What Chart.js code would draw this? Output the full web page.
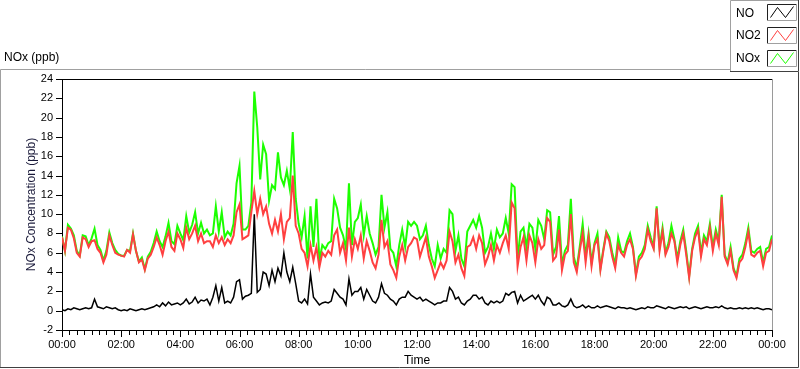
<!DOCTYPE html>
<html><head><meta charset="utf-8">
<script src="https://cdn.jsdelivr.net/npm/chart.js@4.4.1/dist/chart.umd.min.js"></script>
<style>html,body{margin:0;padding:0;background:#fff;overflow:hidden}canvas{display:block}</style>
</head><body>
<canvas id="c" width="800" height="369"></canvas>
<script>
// ---- data (6-minute samples, 00:00 .. 24:00) ----
const seriesNames = ['NO', 'NO2', 'NOx'];
const sampleMinutes = 6;
const noValues = [
0.1,0.0,0.2,0.1,0.3,0.2,0.1,0.2,0.3,0.2,
0.3,1.2,0.4,0.3,0.2,0.4,0.3,0.2,0.3,0.1,
0.0,0.1,0.0,0.2,0.1,0.0,0.1,0.2,0.1,0.2,
0.3,0.4,0.6,0.4,0.8,0.5,0.9,0.6,0.7,0.8,
0.6,0.8,1.2,0.7,0.9,1.4,0.8,1.1,1.0,1.2,
0.6,1.4,2.6,1.0,2.4,0.8,1.0,0.8,1.4,3.0,
3.2,1.2,1.5,1.6,1.8,10.0,1.9,2.2,4.0,3.8,
2.6,4.2,3.0,4.4,3.6,6.0,4.0,3.0,4.5,2.8,
1.0,0.8,1.2,0.7,3.8,1.4,1.0,0.6,0.8,0.9,
0.8,1.0,2.2,1.8,1.4,1.2,0.6,3.3,1.6,2.0,
2.0,2.4,1.2,2.2,1.6,1.0,0.8,1.4,2.8,1.8,
1.6,1.2,1.0,0.6,1.2,1.4,1.4,2.0,1.6,1.4,
1.2,1.4,1.0,1.2,1.0,0.8,0.6,0.8,0.8,1.0,
1.0,2.4,2.0,1.2,1.4,0.8,0.6,1.0,1.2,1.6,
1.6,1.2,1.4,0.8,0.6,1.0,0.8,1.0,0.8,1.0,
1.8,1.6,1.9,2.0,0.8,1.6,1.0,1.2,1.4,1.6,
1.2,1.6,1.0,0.6,1.4,1.2,0.6,0.6,0.8,0.5,
0.4,0.6,1.2,0.5,0.3,0.4,0.6,0.3,0.5,0.3,
0.3,0.5,0.3,0.4,0.5,0.4,0.3,0.2,0.4,0.3,
0.3,0.2,0.3,0.2,0.1,0.2,0.3,0.2,0.4,0.3,
0.3,0.5,0.4,0.3,0.2,0.4,0.3,0.2,0.3,0.4,
0.3,0.4,0.2,0.3,0.4,0.3,0.2,0.3,0.4,0.3,
0.3,0.4,0.3,0.5,0.3,0.2,0.3,0.2,0.2,0.3,
0.2,0.3,0.2,0.3,0.2,0.3,0.2,0.1,0.2,0.2,0.1
];
const no2Values = [
7.6,6.2,8.6,8.4,7.5,6.0,5.6,7.6,7.4,6.6,
7.2,7.3,6.4,6.0,5.0,5.8,7.8,6.8,6.0,5.8,
5.7,5.6,6.3,6.0,7.9,6.2,5.0,5.3,4.2,5.4,
5.8,6.6,7.6,6.8,5.8,7.2,8.2,6.6,6.2,8.0,
7.4,6.5,8.6,7.4,8.0,8.8,7.2,8.0,7.0,7.2,
7.2,6.6,7.8,7.0,7.6,6.8,7.4,7.0,7.8,10.2,
11.0,7.4,7.6,7.8,10.2,12.4,10.0,11.6,10.0,10.8,
9.0,8.0,9.4,8.2,10.0,7.4,9.2,9.6,14.0,8.8,
8.0,6.4,6.0,4.6,6.8,5.2,6.6,4.5,6.0,5.6,
6.2,5.8,7.8,8.4,6.0,7.0,5.2,8.6,5.6,7.4,
6.4,7.8,5.4,7.2,6.2,5.0,4.4,5.8,9.4,6.6,
7.2,4.8,4.2,3.4,5.6,6.8,5.2,6.6,7.0,7.6,
7.4,5.6,6.6,7.6,5.6,4.6,3.4,4.2,5.0,4.4,
5.2,8.2,7.2,5.0,5.8,4.4,3.6,6.6,6.8,7.6,
6.4,7.8,7.0,4.8,5.6,6.8,5.2,6.8,6.0,7.0,
7.8,6.4,11.2,10.6,4.6,6.6,7.6,5.2,7.8,7.0,
5.0,7.4,6.4,6.8,9.6,9.2,5.2,5.6,8.4,4.2,
5.8,6.2,10.0,5.0,4.0,6.2,8.0,5.0,7.6,4.6,
6.8,7.4,4.2,6.2,8.0,7.2,5.6,4.4,6.8,6.0,
5.6,6.8,7.4,6.4,3.6,5.2,5.6,6.4,8.4,7.2,
6.4,10.6,6.2,8.2,5.8,6.6,8.0,7.2,5.0,6.8,
8.0,5.8,3.4,6.2,7.6,8.4,5.6,7.4,6.8,8.6,
6.2,8.0,6.8,11.8,5.6,4.8,6.2,4.2,3.4,5.0,
5.4,6.6,8.2,5.8,5.6,6.0,6.2,4.6,6.0,6.2,7.4
];
const noxValues = [
7.7,6.2,8.9,8.5,7.8,6.2,5.7,7.8,7.7,6.8,
7.5,8.5,6.8,6.3,5.2,6.2,8.1,7.0,6.3,5.9,
5.7,5.7,6.3,6.2,8.0,6.2,5.1,5.5,4.3,5.6,
6.1,7.0,8.2,7.2,6.6,7.7,9.1,7.2,6.9,8.8,
8.0,7.3,9.8,8.1,8.9,10.2,8.0,9.1,8.0,8.4,
7.8,8.0,10.8,8.2,10.2,7.6,8.2,7.8,9.0,13.2,
15.0,8.4,8.4,8.8,11.2,22.7,19.0,13.6,17.2,16.2,
11.4,13.0,12.6,16.4,13.8,13.0,14.5,12.6,18.5,11.6,
9.0,7.6,9.8,5.4,10.8,6.6,11.6,5.2,6.8,6.4,
7.0,7.2,11.6,10.6,8.6,7.8,6.4,13.2,6.8,9.2,
9.6,11.0,7.8,9.8,8.0,7.0,5.8,6.6,12.0,8.6,
10.2,6.4,6.0,4.6,6.8,8.4,6.6,9.2,8.8,9.2,
8.8,7.4,7.8,8.8,6.8,5.4,4.6,6.8,5.4,6.4,
6.0,10.4,10.0,6.2,7.8,5.4,4.6,8.2,8.8,9.4,
8.6,9.8,8.6,6.0,6.6,8.0,6.4,8.4,7.6,8.0,
9.6,8.0,13.1,12.8,5.4,8.2,8.6,6.6,9.0,8.6,
6.4,9.4,8.8,7.4,10.4,10.2,5.8,6.6,9.8,4.8,
6.2,6.8,11.6,5.6,4.4,6.6,9.0,5.6,8.0,5.0,
7.0,8.0,4.4,6.4,8.2,7.6,6.0,4.8,7.6,6.2,
6.0,7.2,8.0,6.6,3.8,5.6,6.0,6.8,8.8,7.6,
6.6,10.8,6.6,8.6,6.0,7.0,8.8,7.4,5.4,7.2,
8.4,6.2,3.6,6.4,8.0,8.8,6.0,7.8,7.2,9.0,
6.6,8.4,7.2,12.0,5.8,5.0,6.6,4.4,3.6,5.4,
5.8,7.0,8.6,6.2,6.0,6.4,6.6,5.0,6.4,6.6,7.8
];
const xTickLabels = ['00:00','02:00','04:00','06:00','08:00','10:00','12:00','14:00','16:00','18:00','20:00','22:00','00:00'];
const yTickValues = [-2,0,2,4,6,8,10,12,14,16,18,20,22,24];

// ---- styling ----
const FONT = "'Liberation Sans', Arial, sans-serif";
const seriesColors = ['#000000', '#ff4040', '#1cff00'];
const seriesWidths = [1.5, 2, 2];
const toPoints = arr => arr.map((v, i) => ({x: i * sampleMinutes, y: v}));
const valueArrays = [noValues, no2Values, noxValues];

const framePlugin = {
  id: 'frame',
  beforeDraw(chart) {
    const c = chart.ctx;
    c.save(); c.fillStyle = '#fff'; c.fillRect(0, 0, chart.width, chart.height); c.restore();
  },
  afterDraw(chart) {
    const c = chart.ctx, a = chart.chartArea;
    const xs = chart.scales.x, ys = chart.scales.y;
    c.save();
    c.lineWidth = 1;
    // outer frame
    c.strokeStyle = '#a0a0a0';
    c.beginPath(); c.moveTo(0.5, 367.5); c.lineTo(0.5, 69.5); c.lineTo(730, 69.5); c.stroke();
    c.strokeStyle = '#404040';
    c.beginPath(); c.moveTo(798.5, 72); c.lineTo(798.5, 367.5); c.lineTo(0, 367.5); c.stroke();
    // plot box top (black) and right (gray)
    c.strokeStyle = '#000';
    c.beginPath(); c.moveTo(a.left, a.top + 0.5); c.lineTo(a.right, a.top + 0.5); c.stroke();
    c.strokeStyle = '#9a9a9a';
    c.beginPath(); c.moveTo(a.right + 0.5, a.top); c.lineTo(a.right + 0.5, a.bottom); c.stroke();
    // tick marks
    c.strokeStyle = '#000';
    c.beginPath();
    xs.ticks.forEach(t => {
      const px = Math.round(xs.getPixelForValue(t.value)) + 0.5;
      const len = (t.value % 120 === 0) ? 6 : 4;
      c.moveTo(px, a.bottom + 1); c.lineTo(px, a.bottom + 1 + len);
    });
    ys.ticks.forEach(t => {
      const py = Math.round(ys.getPixelForValue(t.value)) + 0.5;
      c.moveTo(a.left - 6, py); c.lineTo(a.left, py);
    });
    c.stroke();
    // chart caption
    c.fillStyle = '#000';
    c.font = '12px ' + FONT;
    c.textBaseline = 'middle'; c.textAlign = 'left';
    c.fillText('NOx (ppb)', 4, 58);
    // legend box
    c.fillStyle = '#fff';
    c.fillRect(731, 0, 67, 71);
    c.strokeStyle = '#a0a0a0';
    c.beginPath(); c.moveTo(730.5, 72); c.lineTo(730.5, 0.5); c.lineTo(798, 0.5); c.stroke();
    c.strokeStyle = '#404040';
    c.beginPath(); c.moveTo(798.5, 0); c.lineTo(798.5, 71.5); c.lineTo(730, 71.5); c.stroke();
    const rowsY = [4, 27, 50];
    const textY = [13.5, 36, 59];
    chart.data.datasets.forEach((ds, i) => {
      c.fillStyle = '#000';
      c.fillText(ds.label, 736, textY[i]);
      const bx = 767.5, by = rowsY[i] + 0.5, bw = 29, bh = 16;
      c.lineWidth = 1;
      c.strokeStyle = '#202020';
      c.beginPath(); c.moveTo(bx, by + bh); c.lineTo(bx, by); c.lineTo(bx + bw, by); c.stroke();
      c.strokeStyle = '#a0a0a0';
      c.beginPath(); c.moveTo(bx + bw, by); c.lineTo(bx + bw, by + bh); c.lineTo(bx, by + bh); c.stroke();
      c.strokeStyle = ds.borderColor;
      c.beginPath();
      c.moveTo(bx + 3, by + bh - 3); c.lineTo(bx + 10, by + 3);
      c.lineTo(bx + 18, by + bh - 3); c.lineTo(bx + 26, by + 2);
      c.stroke();
    });
    c.restore();
  }
};

const datasets = seriesNames.map((name, i) => ({
  label: name,
  data: toPoints(valueArrays[i]),
  borderColor: seriesColors[i],
  backgroundColor: seriesColors[i],
  borderWidth: seriesWidths[i],
  borderJoinStyle: 'miter',
  pointRadius: 0,
  tension: 0,
  fill: false,
  order: i + 1
}));

new Chart(document.getElementById('c').getContext('2d'), {
  type: 'line',
  data: { datasets },
  options: {
    responsive: false,
    animation: false,
    devicePixelRatio: 1,
    layout: { padding: { top: 79, right: 28, left: 0, bottom: 0 } },
    plugins: { legend: { display: false }, tooltip: { enabled: false }, title: { display: false } },
    scales: {
      x: {
        type: 'linear', min: 0, max: 1440,
        afterBuildTicks: s => { const t = []; for (let m = 0; m <= 1440; m += 15) t.push({ value: m }); s.ticks = t; },
        afterFit: s => { s.height = 39; },
        grid: { display: false, drawTicks: false },
        border: { display: true, color: '#000', width: 1 },
        ticks: {
          autoSkip: false, maxRotation: 0, minRotation: 0, padding: 8, color: '#000',
          font: { family: FONT, size: 11 },
          callback: v => (v % 120 === 0 ? xTickLabels[v / 120] : '')
        },
        title: { display: true, text: 'Time', color: '#000', font: { family: FONT, size: 12 }, padding: { top: 0, bottom: 1 } }
      },
      y: {
        min: -2, max: 24,
        afterBuildTicks: s => { s.ticks = yTickValues.map(v => ({ value: v })); },
        afterFit: s => { s.width = 62; },
        grid: { display: false, drawTicks: false },
        border: { display: true, color: '#000', width: 1 },
        ticks: { autoSkip: false, padding: 9, color: '#000', font: { family: FONT, size: 11 } },
        title: { display: true, text: 'NOx Concentration (ppb)', color: '#1a1a3a', font: { family: FONT, size: 12 }, padding: { top: 24, bottom: 0 } }
      }
    }
  },
  plugins: [framePlugin]
});
</script>
</body></html>
